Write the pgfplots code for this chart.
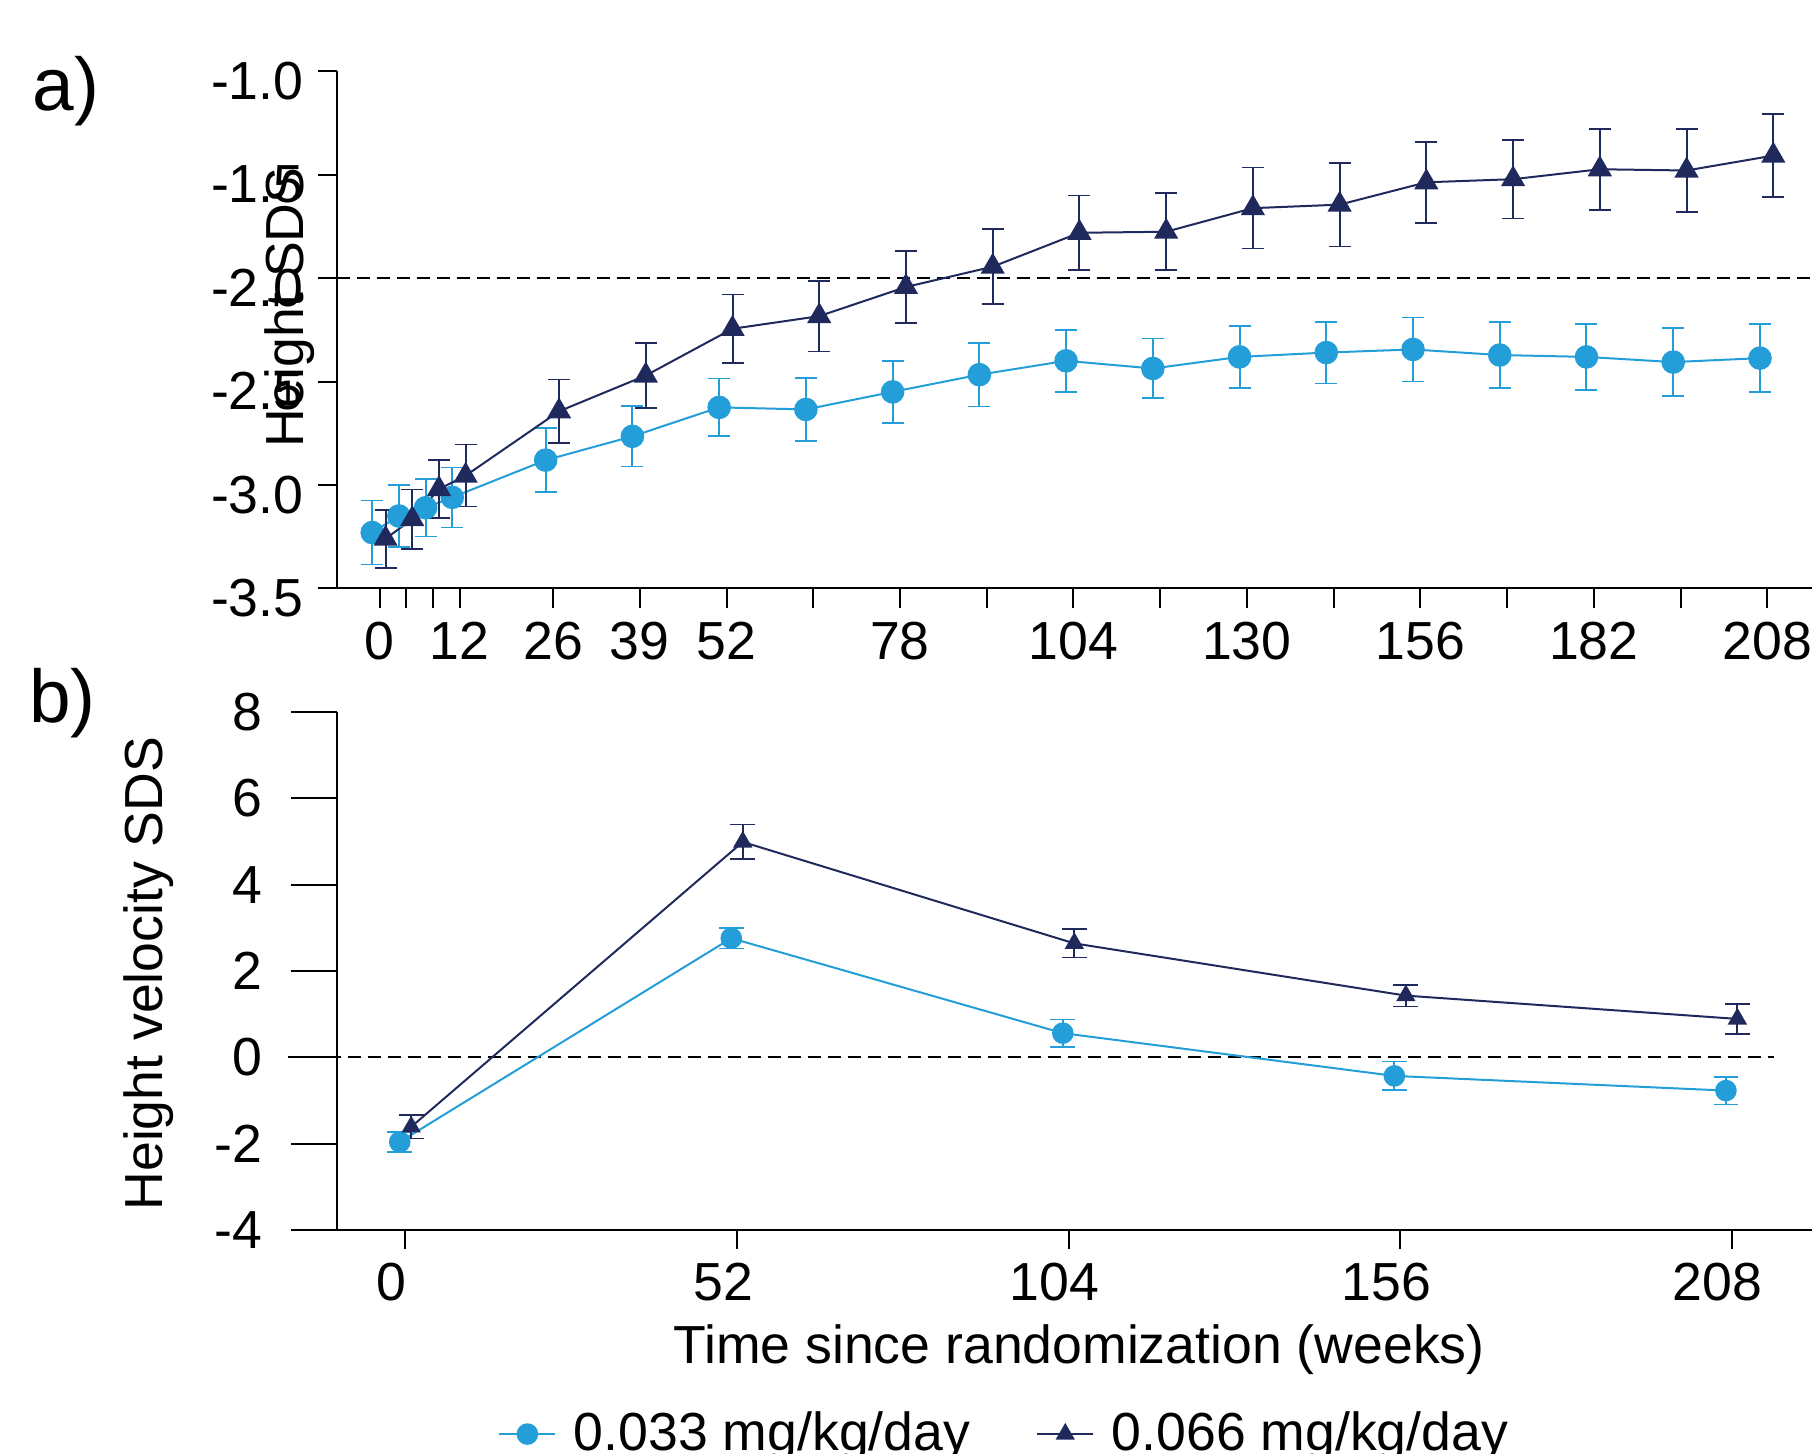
\documentclass[border=0pt]{standalone}
\usepackage{fontspec}
\setmainfont{Liberation Sans}
\usepackage{pgfplots}
\usepackage{pgfplotstable}
\pgfplotsset{compat=1.18}

\definecolor{lowdose}{RGB}{36,158,216}
\definecolor{highdose}{RGB}{32,41,92}

% height SDS, mean and error
\pgfplotstableread{
week sds err
0   -3.230 0.155
4   -3.150 0.150
8   -3.110 0.140
12  -3.060 0.145
26  -2.880 0.154
39  -2.765 0.146
52  -2.625 0.139
65  -2.635 0.152
78  -2.550 0.150
91  -2.467 0.153
104 -2.400 0.150
117 -2.437 0.144
130 -2.381 0.149
143 -2.360 0.149
156 -2.345 0.155
169 -2.372 0.159
182 -2.381 0.159
195 -2.406 0.165
208 -2.387 0.165
}\lowA
\pgfplotstableread{
week sds err
0   -3.260 0.140
4   -3.165 0.144
8   -3.020 0.140
12  -2.955 0.150
26  -2.644 0.154
39  -2.471 0.158
52  -2.245 0.166
65  -2.184 0.170
78  -2.043 0.175
91  -1.945 0.181
104 -1.781 0.181
117 -1.776 0.186
130 -1.662 0.196
143 -1.645 0.202
156 -1.537 0.196
169 -1.522 0.190
182 -1.474 0.196
195 -1.480 0.202
208 -1.408 0.201
}\highA
% height velocity SDS
\pgfplotstableread{
week sds err
0   -1.96 0.23
52   2.76 0.24
104  0.56 0.32
156 -0.43 0.33
208 -0.77 0.32
}\lowB
\pgfplotstableread{
week sds err
0   -1.61 0.27
52   4.99 0.40
104  2.64 0.33
156  1.43 0.25
208  0.89 0.35
}\highB

\newcommand{\figtxt}{\fontsize{13.4}{16}\selectfont}

\pgfplotsset{
  panel/.style={
    scale only axis, width=368.8pt,
    axis x line*=bottom, axis y line*=left,
    x axis line style={-}, y axis line style={-},
    axis line style={black, line width=0.5pt},
    tick align=outside, major tick length=4.8pt,
    tick style={black, line width=0.5pt},
    /pgf/number format/assume math mode=true,
    tick label style={font=\figtxt},
  },
}

\begin{document}
\begin{tikzpicture}[font=\figtxt]
\useasboundingbox (0,0) rectangle (453pt,-363.5pt);
\clip (0,0) rectangle (453pt,-363.5pt);

\begin{axis}[panel,
  at={(84.2pt,-147.1pt)}, anchor=south west, height=129.3pt,
  xmin=-6.41, xmax=214.7, ymin=-3.5, ymax=-1.0,
  xtick={0,12,26,39,52,78,104,130,156,182,208},
  extra x ticks={4,8,65,91,117,143,169,195},
  extra x tick labels={},
  ytick={-3.5,-3,-2.5,-2,-1.5,-1},
  yticklabel style={/pgf/number format/fixed, /pgf/number format/fixed zerofill,
    /pgf/number format/precision=1, yshift=-2.5pt},
]
\addplot[black, line width=0.5pt, dash pattern=on 3.2pt off 1.8pt, forget plot]
  coordinates {(-6.41,-2) (214.7,-2)};
\addplot[lowdose, line width=0.5pt, mark=*, mark size=2.7pt,
  mark options={solid, fill=lowdose, draw=lowdose},
  error bars/.cd, y dir=both, y explicit,
  error bar style={line width=0.5pt, mark size=2.75pt}]
  table[x expr=\thisrow{week}-1.1, y=sds, y error=err] {\lowA};
\addplot[highdose, line width=0.5pt, mark=triangle*, mark size=3pt,
  mark options={solid, fill=highdose, draw=highdose},
  error bars/.cd, y dir=both, y explicit,
  error bar style={line width=0.5pt, mark size=2.75pt}]
  table[x expr=\thisrow{week}+0.9, y=sds, y error=err] {\highA};
\end{axis}

\begin{axis}[panel,
  at={(84.2pt,-307.5pt)}, anchor=south west, height=129.5pt,
  xmin=-10.77, xmax=220.6, ymin=-4, ymax=8,
  xtick={0,52,104,156,208},
  ytick={-4,-2,0,2,4,6,8},
  y tick style={draw=none},
  yticklabel style={xshift=-10.4pt},
  xticklabel style={xshift=-3.5pt},
  clip=false,
  legend style={at={(axis description cs:0.109,-0.394)}, anchor=west,
    draw=none, fill=none, inner sep=0pt, font=\figtxt,
    /tikz/every even column/.append style={column sep=14.5pt}},
  legend columns=2,
  legend image code/.code={\draw[mark repeat=2, mark phase=2, #1]
    plot coordinates {(0pt,0pt) (7pt,0pt) (14pt,0pt)};
    \path (16.4pt,0pt);},
]
\pgfplotsinvokeforeach{-4,-2,0,2,4,6,8}{
  \draw[black, line width=0.5pt] (axis cs:-10.77,#1) -- ++(-11.5pt,0pt);
}
\addplot[black, line width=0.5pt, dash pattern=on 3.2pt off 1.8pt, forget plot]
  coordinates {(-18.4,0) (214.7,0)};
\addplot[lowdose, line width=0.5pt, mark=*, mark size=2.45pt,
  mark options={solid, fill=lowdose, draw=lowdose},
  error bars/.cd, y dir=both, y explicit,
  error bar style={line width=0.5pt, mark size=3.1pt}]
  table[x expr=\thisrow{week}-0.9, y=sds, y error=err] {\lowB};
\addlegendentry{0.033 mg/kg/day}
\addplot[highdose, line width=0.5pt, mark=triangle*, mark size=2.3pt,
  mark options={solid, fill=highdose, draw=highdose},
  error bars/.cd, y dir=both, y explicit,
  error bar style={line width=0.5pt, mark size=3.1pt}]
  table[x expr=\thisrow{week}+0.9, y=sds, y error=err] {\highB};
\addlegendentry{0.066 mg/kg/day}
\end{axis}

\node[rotate=90] at (72.5pt,-76.9pt) {Height SDS};
\node[rotate=90] at (37.25pt,-243.4pt) {Height velocity SDS};
\node[anchor=base] at (269.75pt,-340.75pt) {Time since randomization (weeks)};
\node[anchor=base west, inner sep=0pt, font=\fontsize{18.7}{22}\selectfont] at (8pt,-27.7pt) {a)};
\node[anchor=base west, inner sep=0pt, font=\fontsize{18.7}{22}\selectfont] at (7.1pt,-180.75pt) {b)};
\end{tikzpicture}
\end{document}
